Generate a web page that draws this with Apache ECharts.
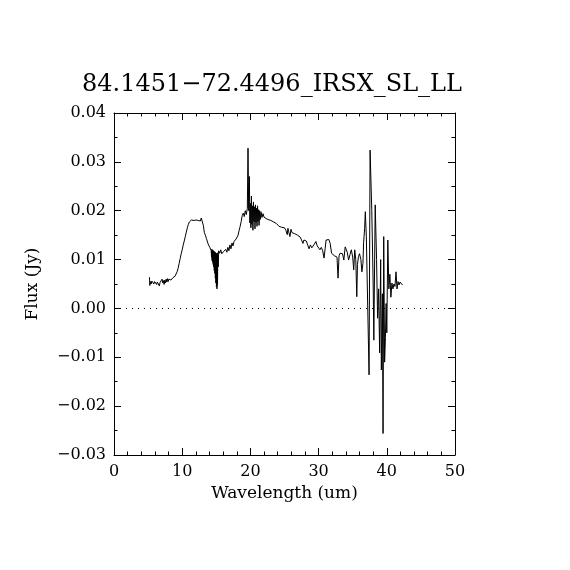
<!DOCTYPE html>
<html><head><meta charset="utf-8">
<script src="https://cdn.jsdelivr.net/npm/echarts@6/dist/echarts.min.js"></script>
<style>html,body{margin:0;padding:0;background:#fff}#c{width:570px;height:570px}</style>
</head><body><div id="c"></div>
<script>
const titleText = "84.1451\u221272.4496_IRSX_SL_LL";
const xLabel = "Wavelength (um)";
const yLabel = "Flux (Jy)";
const wavelength = [
5.20,5.25,5.35,5.45,5.55,5.65,5.75,5.85,5.95,6.05,6.15,6.25,6.35,6.45,6.55,6.65,6.75,6.85,6.95,7.05,
7.15,7.25,7.35,7.45,7.55,7.65,7.75,7.85,7.95,8.05,8.15,8.25,8.35,8.50,8.65,8.80,8.95,9.10,9.25,9.40,
9.55,9.70,9.85,10.0,10.15,10.3,10.45,10.6,10.75,10.9,11.05,11.2,11.35,11.5,11.6,11.75,11.9,12.05,12.2,12.35,
12.5,12.65,12.8,12.95,13.1,13.25,13.4,13.55,13.7,13.85,13.95,14.05,14.15,
14.25,14.30,14.34,14.38,14.42,14.46,14.50,14.54,14.58,14.62,14.66,14.70,14.74,14.78,14.82,14.86,14.90,14.94,14.98,15.02,
15.06,15.10,15.14,15.18,15.22,15.28,15.35,15.5,15.65,15.8,15.95,16.1,16.25,16.4,16.55,16.7,16.85,
17.0,17.15,17.3,17.45,17.6,17.75,17.9,18.05,18.2,18.35,18.5,18.65,18.8,18.95,19.1,19.25,19.4,19.55,19.65,19.75,
19.85,19.92,20.0,20.07,20.15,20.22,20.3,20.37,20.45,20.52,20.6,20.67,20.75,20.82,20.9,20.97,21.05,21.12,21.2,21.27,
21.35,21.45,21.55,21.7,21.85,
22.0,22.15,22.3,22.45,22.6,22.8,23.0,23.2,23.4,23.6,23.8,24.0,24.2,24.4,24.6,24.8,25.0,25.2,25.4,25.5,
25.6,25.8,25.95,26.1,26.3,26.5,26.7,26.9,27.1,27.3,27.5,27.7,27.85,28.0,28.2,28.4,28.6,28.8,29.0,29.2,
29.4,29.6,29.8,30.0,30.2,30.4,30.6,30.8,30.95,31.1,31.3,31.5,31.7,31.9,32.1,32.3,32.5,32.7,32.85,33.0,
33.15,33.3,33.5,33.7,33.9,34.05,34.2,34.4,34.6,34.8,35.0,35.15,35.3,35.45,35.6,35.7,35.85,36.0,36.2,36.35,
36.5,36.6,36.75,36.85,37.0,37.12,37.25,37.4,37.55,37.8,38.0,38.1,38.3,38.5,38.65,38.8,38.95,39.1,39.2,39.35,
39.45,39.55,39.68,39.8,39.9,40.0,40.15,40.3,40.45,40.6,40.75,40.9,41.05,41.2,41.35,41.5,41.65,41.8,41.95,42.1,
42.3,42.5
];
const flux = [
0.0064,0.0047,0.0055,0.0050,0.0056,0.0052,0.0057,0.0050,0.0055,0.0053,0.0058,0.0049,0.0054,0.0051,0.0057,0.0046,0.0053,0.0056,0.0050,0.0060,
0.0052,0.0057,0.0049,0.0058,0.0052,0.0060,0.0054,0.0061,0.0055,0.0060,0.0056,0.0062,0.0058,0.0062,0.0063,0.0064,0.0066,0.0068,0.0075,0.0082,
0.0092,0.0102,0.0112,0.0120,0.0130,0.0138,0.0147,0.0156,0.0165,0.0172,0.0177,0.0180,0.0181,0.0179,0.0183,0.0180,0.0183,0.0181,0.0184,0.0180,
0.0183,0.0179,0.0185,0.0181,0.0170,0.0155,0.0150,0.0143,0.0140,0.0130,0.0134,0.0125,0.0128,
0.0118,0.0105,0.0121,0.0098,0.0120,0.0095,0.0119,0.0090,0.0118,0.0085,0.0117,0.0078,0.0116,0.0072,0.0115,0.0062,0.0114,0.0052,0.0113,0.0044,
0.0112,0.0040,0.0110,0.0048,0.0114,0.0085,0.0118,0.0113,0.0120,0.0112,0.0108,0.0117,0.0113,0.0121,0.0115,0.0125,0.0118,
0.0130,0.0122,0.0134,0.0128,0.0137,0.0135,0.0142,0.0140,0.0150,0.0160,0.0168,0.0178,0.0190,0.0195,0.0188,0.0200,0.0192,0.0205,0.0328,0.0200,
0.0270,0.0175,0.0215,0.0165,0.0230,0.0172,0.0210,0.0160,0.0218,0.0178,0.0208,0.0163,0.0212,0.0176,0.0205,0.0168,0.0210,0.0178,0.0202,0.0170,
0.0200,0.0182,0.0198,0.0186,0.0194,
0.0187,0.0191,0.0184,0.0188,0.0182,0.0186,0.0180,0.0182,0.0177,0.0178,0.0174,0.0171,0.0168,0.0169,0.0166,0.0167,0.0165,0.0160,0.0151,
0.0164,0.0158,0.0147,0.0162,0.0155,0.0158,0.0153,0.0155,0.0150,0.0151,0.0146,0.0140,0.0133,0.0140,0.0136,0.0138,0.0130,0.0122,0.0130,0.0124,
0.0127,0.0132,0.0137,0.0128,0.0125,0.0120,0.0125,0.0118,0.0103,0.0122,0.0140,0.0137,0.0141,0.0133,0.0113,0.0116,0.0108,0.0112,0.0105,0.0062,
0.0108,0.0113,0.0117,0.0112,0.0099,0.0126,0.0130,0.0115,0.0099,0.0110,0.0120,0.0105,0.0079,0.0120,0.0100,0.0024,0.0090,0.0106,0.0112,0.0100,
0.0075,0.0092,0.0135,0.0164,0.0198,0.0147,0.0060,-0.0030,-0.0136,0.0324,0.0200,0.0050,-0.0065,0.0212,0.0100,-0.0020,0.0040,-0.0091,0.0100,-0.0126,
0.0030,-0.0256,0.0147,-0.0110,-0.0060,0.0010,-0.0050,0.0140,0.0040,0.0070,0.0023,0.0052,0.0040,0.0050,0.0045,0.0075,0.0040,0.0055,0.0048,0.0054,
0.0050,0.0048
];
const xTicks = [0,10,20,30,40,50];
const yTicks = [-0.03,-0.02,-0.01,0.00,0.01,0.02,0.03,0.04];

const FONT = "DejaVu Serif";
const fmtY = v => (v < 0 ? "\u2212" : "") + Math.abs(v).toFixed(2);
const chart = echarts.init(document.getElementById('c'), null, {renderer:'canvas'});
const axLine = {show:true, onZero:false, lineStyle:{color:'#000', width:1}};
const baseX = {
  type:'value', min:xTicks[0], max:xTicks[xTicks.length-1], interval:10,
  axisLine:axLine, splitLine:{show:false},
  axisTick:{show:true, inside:true, length:7, lineStyle:{color:'#000'}},
  minorTick:{show:true, splitNumber:5, length:3.5, lineStyle:{color:'#000'}}
};
const baseY = {
  type:'value', min:yTicks[0], max:yTicks[yTicks.length-1], interval:0.01,
  axisLine:axLine, splitLine:{show:false},
  axisTick:{show:true, inside:true, length:7, lineStyle:{color:'#000'}},
  minorTick:{show:true, splitNumber:2, length:3.5, lineStyle:{color:'#000'}}
};
chart.setOption({
  animation:false,
  backgroundColor:'#fff',
  title:{text:titleText, left:267, top:68, textAlign:'center',
    textStyle:{fontFamily:FONT, fontSize:24, fontWeight:'normal', color:'#000'}},
  grid:{left:114, right:115, top:113, bottom:115},
  xAxis:[
    Object.assign({}, baseX, {position:'bottom', name:xLabel, nameLocation:'middle', nameGap:28,
      nameTextStyle:{fontFamily:FONT, fontSize:17, color:'#000'},
      axisLabel:{show:true, margin:9, fontFamily:FONT, fontSize:16, color:'#000', formatter:v=>String(v)}}),
    Object.assign({}, baseX, {position:'top', axisLabel:{show:false}})
  ],
  yAxis:[
    Object.assign({}, baseY, {position:'left', name:yLabel, nameLocation:'middle', nameGap:73,
      nameRotate:90, nameTextStyle:{fontFamily:FONT, fontSize:17, color:'#000'},
      axisLabel:{show:true, margin:8, fontFamily:FONT, fontSize:16, color:'#000', formatter:fmtY}}),
    Object.assign({}, baseY, {position:'right', axisLabel:{show:false}})
  ],
  series:[{
    type:'line', xAxisIndex:0, yAxisIndex:0, showSymbol:false, symbol:'none',
    lineStyle:{color:'#000', width:1}, data:wavelength.map((w,i)=>[w, flux[i]]),
    markLine:{silent:true, symbol:'none', label:{show:false},
      lineStyle:{color:'#000', width:1, type:[1,5]}, data:[{yAxis:0}]}
  }]
});
</script></body></html>
